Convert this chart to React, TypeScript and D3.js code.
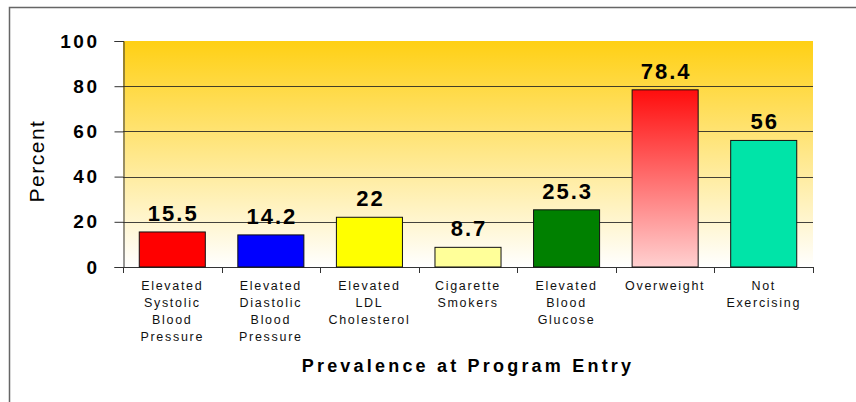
import React, { useEffect, useRef } from "react";
import * as d3 from "d3";

const categories = [
  ["Elevated", "Systolic", "Blood", "Pressure"],
  ["Elevated", "Diastolic", "Blood", "Pressure"],
  ["Elevated", "LDL", "Cholesterol"],
  ["Cigarette", "Smokers"],
  ["Elevated", "Blood", "Glucose"],
  ["Overweight"],
  ["Not", "Exercising"],
];
const values = [15.5, 14.2, 22, 8.7, 25.3, 78.4, 56];
const barColors = ["#ff0000", "#0000ff", "#ffff00", "#ffff99", "#008000", "url(#overweightGrad)", "#00e4a8"];
const yTicks = [0, 20, 40, 60, 80, 100];

const W = 856;
const H = 402;
const FONT = "'Liberation Sans', Arial, sans-serif";

export default function App() {
  const ref = useRef<SVGSVGElement>(null);

  useEffect(() => {
    const svg = d3.select(ref.current);
    svg.selectAll("*").remove();

    const left = 123, right = 813, top = 41, bottom = 267;

    const defs = svg.append("defs");
    const bg = defs.append("linearGradient").attr("id", "bgGrad")
      .attr("x1", 0).attr("y1", 0).attr("x2", 0).attr("y2", 1);
    bg.append("stop").attr("offset", "0%").attr("stop-color", "#ffd014");
    bg.append("stop").attr("offset", "100%").attr("stop-color", "#ffffff");

    const ow = defs.append("linearGradient").attr("id", "overweightGrad")
      .attr("x1", 0).attr("y1", 0).attr("x2", 0).attr("y2", 1);
    ow.append("stop").attr("offset", "0%").attr("stop-color", "#ff0d0d");
    ow.append("stop").attr("offset", "100%").attr("stop-color", "#ffd0d0");

    // frame (partially cropped)
    svg.append("path")
      .attr("d", `M9.5,${H} L9.5,7.5 L${W},7.5`)
      .attr("fill", "none")
      .attr("stroke", "#666")
      .attr("stroke-width", 1.5);

    const x = d3.scaleBand<number>()
      .domain(d3.range(values.length))
      .range([left, right])
      .paddingInner(0.33)
      .paddingOuter(0.165);

    const y = d3.scaleLinear().domain([0, 100]).range([bottom, top]);

    // plot background
    svg.append("rect")
      .attr("x", left).attr("y", top)
      .attr("width", right - left).attr("height", bottom - top)
      .attr("fill", "url(#bgGrad)");

    // gridlines
    svg.append("g")
      .selectAll("line")
      .data(yTicks.filter((d) => d > 0 && d < 100))
      .enter()
      .append("line")
      .attr("x1", left).attr("x2", right)
      .attr("y1", (d) => Math.round(y(d)) + 0.5)
      .attr("y2", (d) => Math.round(y(d)) + 0.5)
      .attr("stroke", "#222")
      .attr("stroke-opacity", 0.85);

    // y axis
    const yAxis = svg.append("g")
      .attr("transform", `translate(${left + 0.5},0)`)
      .call(d3.axisLeft(y).tickValues(yTicks).tickSize(9).tickPadding(15));
    yAxis.select(".domain").attr("stroke", "#333");
    yAxis.selectAll(".tick line").attr("stroke", "#333");
    yAxis.selectAll(".tick text")
      .attr("font-family", FONT)
      .attr("font-size", 19)
      .attr("font-weight", "bold")
      .attr("letter-spacing", "2.5px")
      .attr("fill", "#000");

    // x axis line and category boundary ticks
    const band = x.step();
    const gx = svg.append("g");
    gx.append("line")
      .attr("x1", left).attr("x2", right)
      .attr("y1", bottom + 0.5).attr("y2", bottom + 0.5)
      .attr("stroke", "#333");
    gx.selectAll("line.t")
      .data(d3.range(values.length + 1))
      .enter()
      .append("line")
      .attr("class", "t")
      .attr("x1", (i) => Math.round(left + i * band) + 0.5)
      .attr("x2", (i) => Math.round(left + i * band) + 0.5)
      .attr("y1", bottom)
      .attr("y2", bottom + 6)
      .attr("stroke", "#333");

    // bars
    svg.append("g")
      .selectAll("rect")
      .data(values)
      .enter()
      .append("rect")
      .attr("x", (d, i) => x(i)!)
      .attr("y", (d) => y(d))
      .attr("width", x.bandwidth())
      .attr("height", (d) => bottom - y(d))
      .attr("fill", (d, i) => barColors[i])
      .attr("stroke", "#111")
      .attr("stroke-width", 1);

    // value labels
    svg.append("g")
      .selectAll("text")
      .data(values)
      .enter()
      .append("text")
      .attr("x", (d, i) => x(i)! + x.bandwidth() / 2 + 1)
      .attr("y", (d) => y(d) - 11)
      .attr("text-anchor", "middle")
      .attr("font-family", FONT)
      .attr("font-size", 22)
      .attr("font-weight", "bold")
      .attr("letter-spacing", "2px")
      .text((d) => String(d));

    // category labels
    const cat = svg.append("g")
      .selectAll("text")
      .data(categories)
      .enter()
      .append("text")
      .attr("x", (d, i) => x(i)! + x.bandwidth() / 2)
      .attr("y", 290)
      .attr("text-anchor", "middle")
      .attr("font-family", FONT)
      .attr("font-size", 12.5)
      .attr("letter-spacing", "1.7px")
      .attr("fill", "#111");
    cat.selectAll("tspan")
      .data((d) => d)
      .enter()
      .append("tspan")
      .attr("x", function () {
        return (this.parentNode as SVGTextElement).getAttribute("x");
      })
      .attr("dy", (d, i) => (i === 0 ? 0 : 17))
      .text((d) => d);

    // axis titles
    svg.append("text")
      .attr("transform", `translate(44,161) rotate(-90)`)
      .attr("text-anchor", "middle")
      .attr("font-family", FONT)
      .attr("font-size", 21)
      .attr("letter-spacing", "1.5px")
      .text("Percent");

    svg.append("text")
      .attr("x", (left + right) / 2)
      .attr("y", 372)
      .attr("text-anchor", "middle")
      .attr("font-family", FONT)
      .attr("font-size", 18)
      .attr("font-weight", "bold")
      .attr("letter-spacing", "3.2px")
      .text("Prevalence at Program Entry");
  }, []);

  return (
    <svg
      ref={ref}
      width={W}
      height={H}
      style={{ position: "absolute", left: 0, top: 0, background: "#fff" }}
    />
  );
}
